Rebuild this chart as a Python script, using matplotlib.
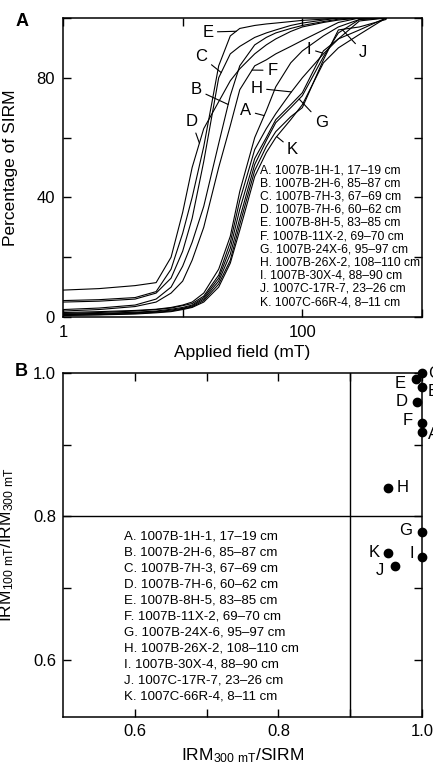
import numpy as np
import matplotlib
matplotlib.use('Agg')
import matplotlib.pyplot as plt
from matplotlib.ticker import NullLocator

plt.rcParams['font.family'] = ['Liberation Sans', 'DejaVu Sans']
plt.rcParams['mathtext.fontset'] = 'custom'
plt.rcParams['mathtext.rm'] = 'Liberation Sans'
plt.rcParams['mathtext.default'] = 'rm'

# IRM acquisition steps (mT)
field = [1, 2, 4, 6, 8, 10, 12, 15, 20, 25, 30, 40, 50, 60, 80, 100, 150, 200, 300, 500]

# percentage of SIRM for each sample
curve_a = [1.5, 1.8, 2.2, 2.6, 3.2, 4, 5, 8, 16, 27, 42, 60, 69, 77, 85, 89, 94, 97, 99.5, 100]
curve_b = [2.5, 3, 4, 6, 10, 17, 25, 37, 58, 74, 84, 91, 93.5, 95, 96.5, 97.5, 98.8, 99.6, 100, 100]
curve_c = [5, 5.3, 6, 8, 13, 22, 33, 52, 80, 88, 90.5, 93.5, 95, 96, 97.5, 98.3, 99.3, 100, 100, 100]
curve_d = [9, 9.5, 10.5, 11.5, 20, 35, 50, 63, 72, 79, 83, 88, 91, 93, 95.5, 97, 98.5, 99.3, 100, 100]
curve_e = [5.5, 5.8, 6.5, 8.5, 16, 28, 40, 57, 84, 94, 96.5, 97.5, 98, 98.3, 98.8, 99.2, 99.6, 100, 100, 100]
curve_f = [2, 2.5, 3.5, 5, 8, 12, 19, 30, 50, 64, 76, 84, 86, 88, 90.5, 92.5, 96, 98.5, 100, 100]
curve_g = [0.8, 1, 1.4, 1.8, 2.3, 2.9, 3.7, 6, 12, 21, 33, 51, 59, 65, 70, 74, 87, 95, 99.5, 100]
curve_h = [1.2, 1.5, 2, 2.5, 3, 3.8, 4.5, 7, 14, 25, 39, 56, 63, 68, 75, 80, 88, 93, 96, 100]
curve_i = [1, 1.2, 1.6, 2, 2.6, 3.2, 4, 6.5, 13, 23, 36, 53, 60, 66, 71, 75, 89, 93, 99, 100]
curve_j = [0.6, 0.8, 1.2, 1.6, 2, 2.7, 3.4, 5.5, 11, 19, 31, 49, 57, 62, 67, 70, 86, 96, 97, 99.5]
curve_k = [0.5, 0.7, 1, 1.4, 1.8, 2.5, 3.2, 5, 10, 18, 29, 47, 55, 60, 66, 71, 85, 90, 94.5, 100]

sample_ids = ['A', 'B', 'C', 'D', 'E', 'F', 'G', 'H', 'I', 'J', 'K']
sample_names = ['1007B-1H-1, 17–19 cm', '1007B-2H-6, 85–87 cm', '1007B-7H-3, 67–69 cm',
                '1007B-7H-6, 60–62 cm', '1007B-8H-5, 83–85 cm', '1007B-11X-2, 69–70 cm',
                '1007B-24X-6, 95–97 cm', '1007B-26X-2, 108–110 cm', '1007B-30X-4, 88–90 cm',
                '1007C-17R-7, 23–26 cm', '1007C-66R-4, 8–11 cm']

# panel B ratios
irm300_sirm = [1.0, 1.0, 1.0, 0.993, 0.991, 1.0, 1.0, 0.952, 1.0, 0.962, 0.953]
irm100_irm300 = [0.918, 0.981, 1.0, 0.960, 0.992, 0.930, 0.778, 0.839, 0.743, 0.731, 0.749]

curves = [curve_a, curve_b, curve_c, curve_d, curve_e, curve_f,
          curve_g, curve_h, curve_i, curve_j, curve_k]

# curve label placement: text (field, %), and field where the pointer meets the curve
label_text_a = [(33.6, 69), (13, 76), (14.4, 87), (11.9, 65.4), (16.2, 95.3), (56, 82.5),
                (144, 65), (41.4, 76.5), (114, 89.6), (323, 88.6), (83, 56)]
label_hit_a = [48, 24, 21, 13.8, 28, 38, 94, 81, 147, 215, 61]

# point label offsets in points (panel B)
label_off_b = [(4.3, -2.2), (4.3, -3.6), (4.3, 0), (-10.8, 0), (-10.8, -3.6), (-10, 2.2),
               (-11.5, 1.4), (10.8, 0.7), (-7.2, 2.9), (-10.8, -3.6), (-10, 0)]

fig = plt.figure(figsize=(4.33, 7.65), dpi=100)

# ---- panel A ----
ax1 = fig.add_axes([0.1455, 0.5856, 0.8291, 0.3909])
for c in curves:
    ax1.plot(field, c, color='black', lw=0.8)

logf = np.log10(field)
for sid, c, txt, hit in zip(sample_ids, curves, label_text_a, label_hit_a):
    yhit = np.interp(np.log10(hit), logf, c)
    ax1.annotate(sid, xy=(hit, yhit), xytext=txt, ha='center', va='center', fontsize=12,
                 arrowprops=dict(arrowstyle='-', lw=0.8, color='black', shrinkA=1, shrinkB=0))

ax1.set_xscale('log')
ax1.set_xlim(1, 1000)
ax1.set_ylim(0, 100)
ax1.set_xticks([1, 10, 100, 1000])
ax1.set_xticklabels(['1', '', '100', ''])
ax1.xaxis.set_minor_locator(NullLocator())
ax1.set_yticks([0, 20, 40, 60, 80, 100])
ax1.set_yticklabels(['0', '', '40', '', '80', ''])
ax1.tick_params(direction='in', top=True, right=True, length=6, width=1, labelsize=12, pad=6)
ax1.set_xlabel('Applied field (mT)', fontsize=12.5)
ax1.set_ylabel('Percentage of SIRM', fontsize=12.5)
ax1.xaxis.set_label_coords(0.5, -0.095)
ax1.yaxis.set_label_coords(-0.125, 0.5)

for i, (sid, name) in enumerate(zip(sample_ids, sample_names)):
    ax1.text(0.549, 0.4916 - i * 0.04415, f'{sid}. {name}', transform=ax1.transAxes,
             fontsize=8.7, va='center', ha='left')

# ---- panel B ----
ax2 = fig.add_axes([0.1455, 0.0627, 0.8291, 0.4497])
ax2.axvline(0.9, color='black', lw=1)
ax2.axhline(0.8, color='black', lw=1)
ax2.scatter(irm300_sirm, irm100_irm300, s=36, color='black', zorder=3, clip_on=False)
for sid, x, y, off in zip(sample_ids, irm300_sirm, irm100_irm300, label_off_b):
    ha = 'left' if 0 < off[0] < 5 else 'center'
    ax2.annotate(sid, xy=(x, y), xytext=off, textcoords='offset points',
                 ha=ha, va='center', fontsize=12, annotation_clip=False)

ax2.set_xlim(0.5, 1.0)
ax2.set_ylim(0.52, 1.0)
ax2.set_xticks([0.6, 0.7, 0.8, 0.9, 1.0])
ax2.set_xticklabels(['0.6', '', '0.8', '', '1.0'])
ax2.set_yticks([0.6, 0.7, 0.8, 0.9, 1.0])
ax2.set_yticklabels(['0.6', '', '0.8', '', '1.0'])
ax2.tick_params(direction='in', top=True, right=True, length=6, width=1, labelsize=12, pad=5)
ax2.set_xlabel(r'IRM$_{\mathrm{300\ mT}}$/SIRM', fontsize=12.5)
ax2.set_ylabel(r'IRM$_{\mathrm{100\ mT}}$/IRM$_{\mathrm{300\ mT}}$', fontsize=12.5)
ax2.xaxis.set_label_coords(0.5, -0.085)
ax2.yaxis.set_label_coords(-0.13, 0.5)

for i, (sid, name) in enumerate(zip(sample_ids, sample_names)):
    ax2.text(0.170, 0.526 - i * 0.0465, f'{sid}. {name}', transform=ax2.transAxes,
             fontsize=9.5, va='center', ha='left')

for ax in (ax1, ax2):
    for sp in ax.spines.values():
        sp.set_linewidth(1.1)

fig.text(22 / 433, 1 - 21 / 765, 'A', fontsize=13, fontweight='bold', ha='center', va='center')
fig.text(21 / 433, 1 - 371 / 765, 'B', fontsize=13, fontweight='bold', ha='center', va='center')

fig.savefig('out.png', dpi=100)
